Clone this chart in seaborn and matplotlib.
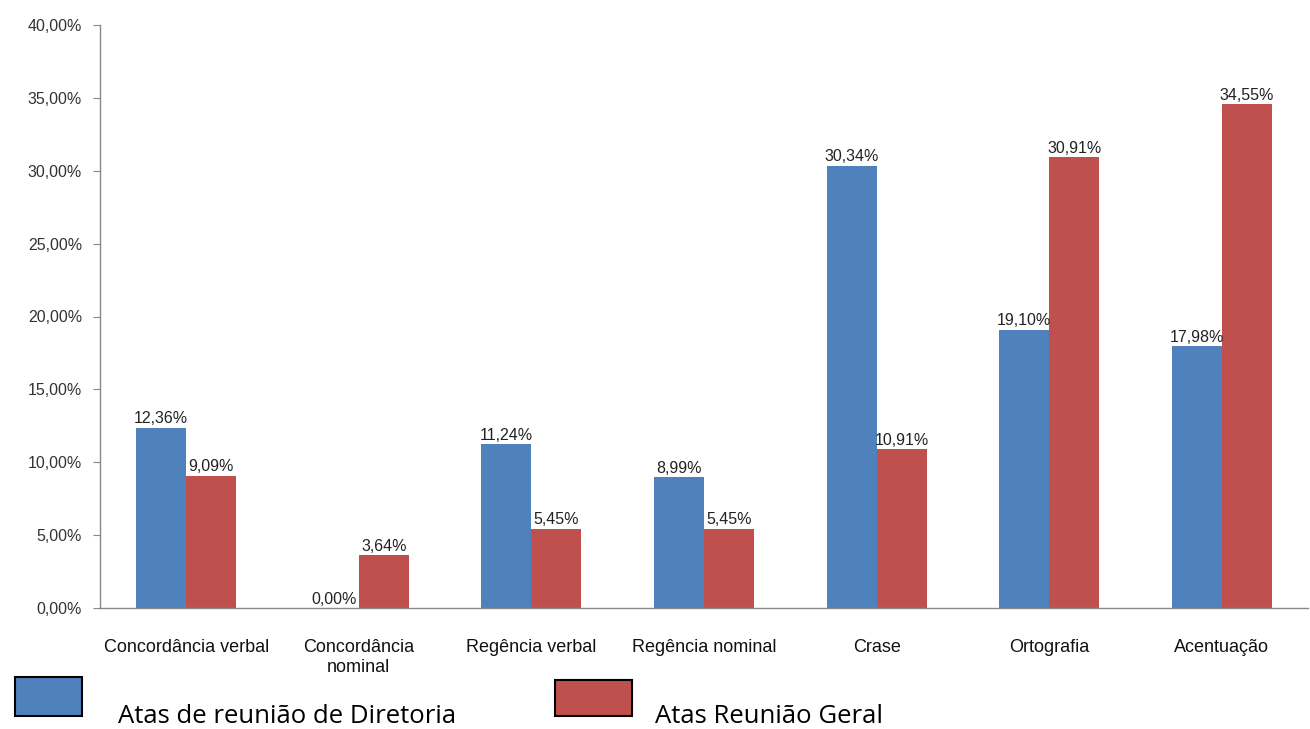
import numpy as np
import pandas as pd
import matplotlib.pyplot as plt
import matplotlib.patches as mpatches
import seaborn as sns

categories = ['Concordância verbal', 'Concordância\nnominal', 'Regência verbal',
              'Regência nominal', 'Crase', 'Ortografia', 'Acentuação']
diretoria = [12.36, 0.00, 11.24, 8.99, 30.34, 19.10, 17.98]
geral = [9.09, 3.64, 5.45, 5.45, 10.91, 30.91, 34.55]
series_names = ['Atas de reunião de Diretoria', 'Atas Reunião Geral']
colors = ['#4F81BD', '#C0504D']
yticks = [0, 5, 10, 15, 20, 25, 30, 35, 40]


def pct(v):
    return f'{v:.2f}%'.replace('.', ',')


df = pd.DataFrame({
    'categoria': categories * 2,
    'valor': diretoria + geral,
    'serie': [series_names[0]] * len(categories) + [series_names[1]] * len(categories),
})

sns.set_style('white')
plt.rcParams['font.family'] = ['Liberation Sans', 'DejaVu Sans']

fig = plt.figure(figsize=(13.1, 7.29), dpi=100)
ax = fig.add_axes([100 / 1310, 1 - 608 / 729, 1208 / 1310, 583 / 729])

sns.barplot(data=df, x='categoria', y='valor', hue='serie', palette=colors,
            width=0.58, gap=0, ax=ax, legend=False, saturation=1,
            linewidth=0, edgecolor='none')

for container in ax.containers:
    ax.bar_label(container, labels=[pct(b.get_height()) for b in container],
                 padding=1, fontsize=11.5, color='#222222')

ax.set_xlim(-0.5, len(categories) - 0.5)
ax.set_ylim(0, 40)
ax.set_yticks(yticks)
ax.set_yticklabels([pct(v) for v in yticks], fontsize=11.5, color='#333333')
ax.set_xticklabels(categories, fontsize=13, color='#111111', linespacing=1.25)
ax.set_xlabel('')
ax.set_ylabel('')

ax.set_xticks(np.arange(-0.5, len(categories)), minor=True)
ax.tick_params(axis='x', which='major', length=0, pad=22)
ax.tick_params(axis='x', which='minor', length=6, color='#888888', direction='out')
ax.tick_params(axis='y', length=5, color='#888888', direction='out', left=True, pad=8)

for side in ['top', 'right']:
    ax.spines[side].set_visible(False)
for side in ['left', 'bottom']:
    ax.spines[side].set_color('#888888')
    ax.spines[side].set_linewidth(1)

# legend drawn as in the original, boxes below the axes
fig.patches.append(mpatches.Rectangle((15 / 1310, 1 - 716 / 729), 67 / 1310, 39 / 729,
                                      transform=fig.transFigure, facecolor=colors[0],
                                      edgecolor='black', linewidth=1.5))
fig.patches.append(mpatches.Rectangle((555 / 1310, 1 - 716 / 729), 77 / 1310, 36 / 729,
                                      transform=fig.transFigure, facecolor=colors[1],
                                      edgecolor='black', linewidth=1.5))
fig.text(118 / 1310, 0.0, series_names[0], fontsize=18.5, color='black',
         family=['Open Sans', 'DejaVu Sans'], va='bottom', ha='left')
fig.text(655 / 1310, 0.0, series_names[1], fontsize=18.5, color='black',
         family=['Open Sans', 'DejaVu Sans'], va='bottom', ha='left')

fig.savefig('out.png', dpi=100)
